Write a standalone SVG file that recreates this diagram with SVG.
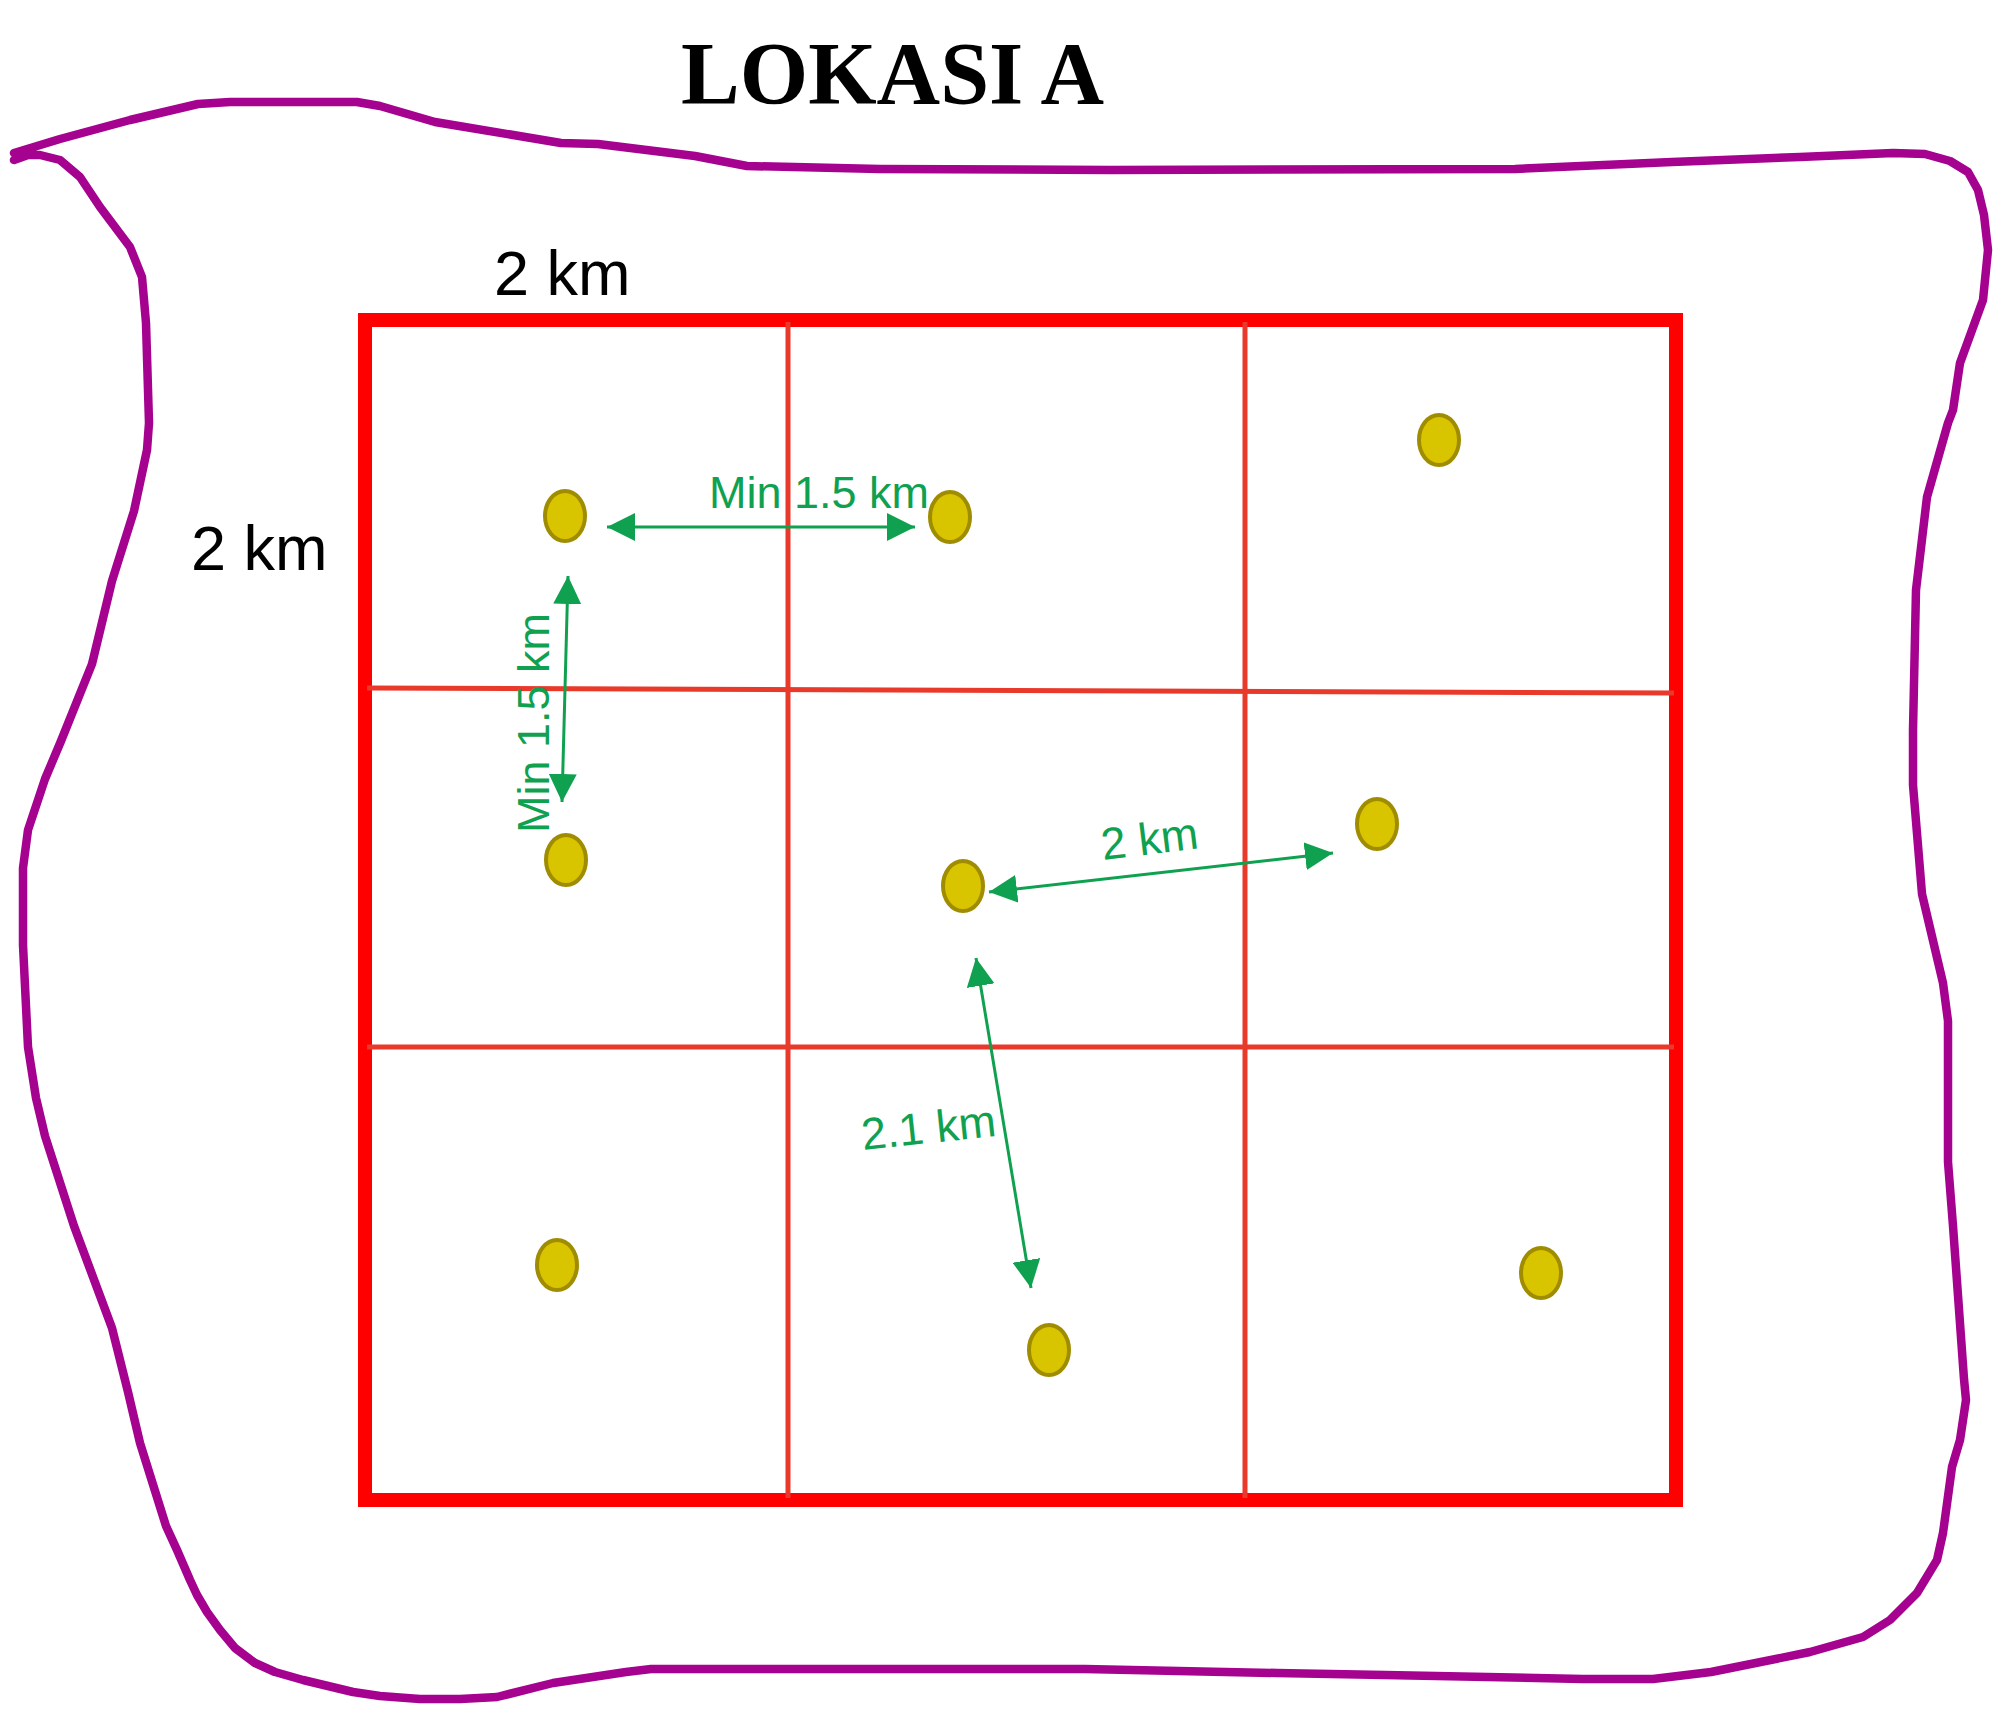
<svg xmlns="http://www.w3.org/2000/svg" width="2002" height="1715" viewBox="0 0 2002 1715">
<style>
.boundary{fill:none;stroke:#A4028F;stroke-width:8.5;stroke-linejoin:round;stroke-linecap:round}
.outer{fill:none;stroke:#FF0000;stroke-width:14}
.grid{fill:none;stroke:#E8392A;stroke-width:5}
.dot{fill:#D9C400;stroke:#A08C00;stroke-width:4}
.arr{fill:none;stroke:#0FA150;stroke-width:3;marker-start:url(#ah);marker-end:url(#ah)}
.gt{font-family:"Liberation Sans",Arial,sans-serif;font-size:45px;fill:#0FA150}
.bt{font-family:"Liberation Sans",Arial,sans-serif;font-size:63px;fill:#000}
.title{font-family:"Liberation Serif","Times New Roman",serif;font-weight:bold;font-size:88px;fill:#000}
</style>
<defs>
<marker id="ah" markerUnits="userSpaceOnUse" markerWidth="28" markerHeight="28" refX="28" refY="14" orient="auto-start-reverse" viewBox="0 0 28 28">
<path d="M0,0 L28,14 L0,28 Z" fill="#0FA150"/>
</marker>
</defs>
<rect width="2002" height="1715" fill="#fff"/>
<g id="title"><text class="title" x="681" y="103">LOKASI A</text></g>
<g id="boundary">
<path class="boundary" d="M14,153 L60,139 L130,120 L198,104 L230,102 L357,102 L380,106 L435,122 L561,143 L598,144 L695,156 L747,166 L880,169 L1110,170 L1515,169 L1672,162 L1800,157 L1893,153 L1925,154 L1950,161 L1968,172 L1978,190 L1984,215 L1988,250 L1983,300 L1960,363 L1953,410 L1948,423 L1927,497 L1916,590 L1913,730 L1913,785 L1922,894 L1943,983 L1948,1021 L1948,1162 L1953,1226 L1964,1379 L1966,1400 L1960,1440 L1952,1467 L1943,1533 L1937,1560 L1917,1593 L1890,1620 L1863,1637 L1810,1652 L1711,1672 L1653,1679 L1583,1679 L1385,1675 L1277,1673 L1085,1669 L651,1669 L626,1672 L553,1683 L497,1697 L460,1699 L420,1699 L380,1696 L353,1692 L303,1680 L275,1672 L255,1663 L235,1648 L220,1630 L207,1612 L197,1595 L190,1580 L177,1550 L166,1526 L140,1443 L128,1392 L112,1328 L74,1226 L45,1136 L36,1098 L28,1047 L23,945 L23,868 L28,830 L45,779 L61,741 L92,664 L112,581 L134,511 L147,450 L149,423 L146,323 L142,277 L130,247 L100,207 L80,177 L60,160 L40,155 L28,155 L14,160"/>
</g>
<g id="grid">
<rect class="outer" x="365" y="320" width="1311" height="1180"/>
<line class="grid" x1="788" y1="322" x2="788" y2="1498"/>
<line class="grid" x1="1245" y1="322" x2="1245" y2="1498"/>
<line class="grid" x1="367" y1="688" x2="1674" y2="693"/>
<line class="grid" x1="367" y1="1047" x2="1674" y2="1047"/>
</g>
<g id="dots">
<ellipse id="p1" class="dot" cx="565" cy="516" rx="20" ry="25"/>
<ellipse id="p2" class="dot" cx="950" cy="517" rx="20" ry="25"/>
<ellipse id="p3" class="dot" cx="1439" cy="440" rx="20" ry="25"/>
<ellipse id="p4" class="dot" cx="566" cy="860" rx="20" ry="25"/>
<ellipse id="p5" class="dot" cx="963" cy="886" rx="20" ry="25"/>
<ellipse id="p6" class="dot" cx="1377" cy="824" rx="20" ry="25"/>
<ellipse id="p7" class="dot" cx="557" cy="1265" rx="20" ry="25"/>
<ellipse id="p8" class="dot" cx="1049" cy="1350" rx="20" ry="25"/>
<ellipse id="p9" class="dot" cx="1541" cy="1273" rx="20" ry="25"/>
</g>
<g id="connectors">
<line class="arr" x1="607" y1="527" x2="915" y2="527"/>
<line class="arr" x1="568" y1="576" x2="562" y2="802"/>
<line class="arr" x1="989" y1="892" x2="1333" y2="853"/>
<line class="arr" x1="976" y1="958" x2="1031" y2="1288"/>
</g>
<g id="labels">
<text class="bt" x="494" y="295">2 km</text>
<text class="bt" x="191" y="570">2 km</text>
<text class="gt" x="709" y="508">Min 1.5 km</text>
<text class="gt" transform="translate(549,833) rotate(-90)">Min 1.5 km</text>
<text class="gt" transform="translate(1103,860) rotate(-7)">2 km</text>
<text class="gt" transform="translate(863,1150) rotate(-6)">2.1 km</text>
</g>
</svg>
